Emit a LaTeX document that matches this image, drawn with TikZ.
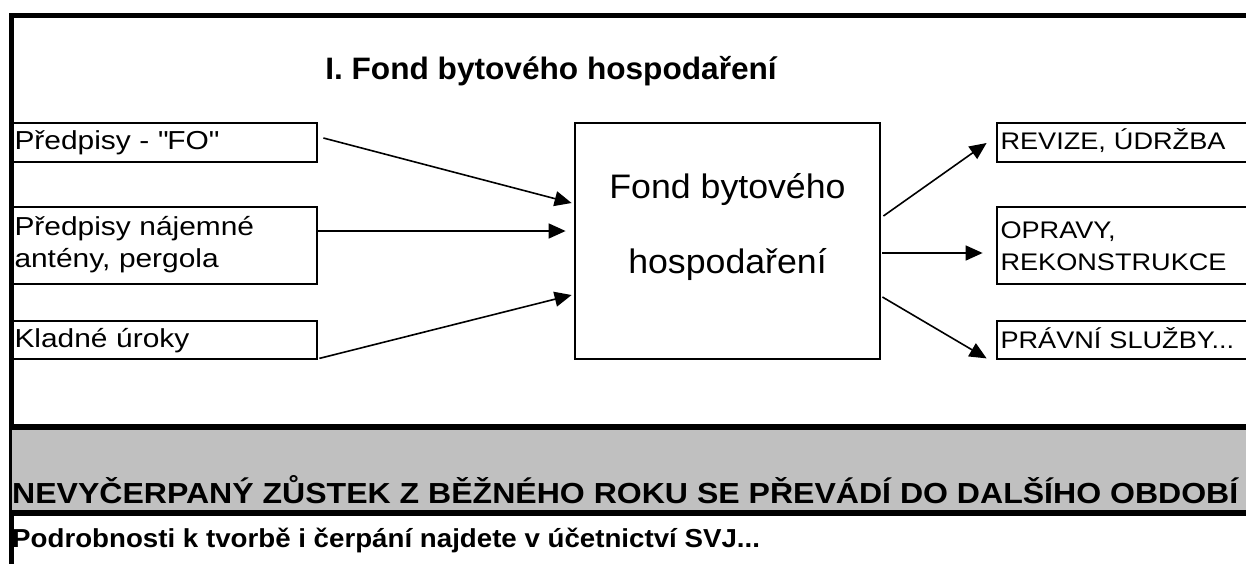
\documentclass[tikz,border=0pt]{standalone}
\usepackage{fontspec}
\setmainfont{Liberation Sans}
\newfontfamily\titlefont[FakeStretch=1.02]{Liberation Sans}
\newfontfamily\boxfont[FakeStretch=1.15]{Liberation Sans}
\newfontfamily\outfont[FakeStretch=1.13]{Liberation Sans}
\newfontfamily\fundfont[FakeStretch=1.05]{Liberation Sans}
\newfontfamily\bandfont[FakeStretch=1.105]{Liberation Sans}
\newfontfamily\notefont[FakeStretch=1.065]{Liberation Sans}
\usetikzlibrary{arrows.meta,calc}
\definecolor{bandgrey}{RGB}{192,192,192}
\newcommand{\flowedge}[4]{
  % arrow from a point near node #1 to a point near node #3
  \draw[flow] ($(#1)+(#2)$) -- ($(#3)+(#4)$);
}
\tikzstyle{inbox}=[draw, rectangle, line width=2.8pt, text width=300pt, inner xsep=2.5pt, inner ysep=0pt, align=left, font=\boxfont\fontsize{26}{32}\selectfont]
\tikzstyle{outbox}=[draw, rectangle, line width=2.8pt, text width=258pt, inner xsep=3.5pt, inner ysep=0pt, align=left, font=\outfont\fontsize{24}{32}\selectfont]
\tikzstyle{fundbox}=[draw, rectangle, line width=2.8pt, minimum width=305pt, minimum height=236pt]
\tikzset{flow/.style={-{Triangle[length=17pt,width=15pt]}, line width=1.6pt}}
\tikzset{frame/.style={line width=5pt}}
\tikzset{y=-1pt}
\tikzset{x=1pt}

\begin{document}
\begin{tikzpicture}
  \useasboundingbox (0,0) rectangle (1246,563);
  %% Outer frame
  \draw[frame] (1260,15.5) -- (11.5,15.5) -- (11.5,575);
  \draw (551,79) node[anchor=base,font=\titlefont\fontsize{31}{36}\selectfont\bfseries] (title) {I. Fond bytového hospodaření};

  %% Inflows
  \draw (164.5,142.5) node[inbox,minimum height=39pt,text height=18pt,text depth=5pt] (in1) {Předpisy - \textquotedbl FO\textquotedbl};
  \draw (164.5,245.5) node[inbox,minimum height=77pt,text height=18pt,text depth=39pt] (in2) {Předpisy nájemné\\antény, pergola};
  \draw (164.5,340) node[inbox,minimum height=38pt,text height=18pt,text depth=4pt] (in3) {Kladné úroky};

  %% Fund
  \draw (727.5,241) node[fundbox] (fund) {};
  \draw (727.5,227) node[align=center,font=\fundfont\fontsize{34}{75}\selectfont] (fundname) {Fond bytového\\hospodaření};

  %% Outflows
  \draw (1129.5,142.5) node[outbox,minimum height=39pt,text height=17pt,text depth=4pt] (out1) {REVIZE, ÚDRŽBA};
  \draw (1129.5,245.5) node[outbox,minimum height=77pt,text height=17pt,text depth=31.4pt] (out2) {OPRAVY,\\REKONSTRUKCE};
  \draw (1129.5,340) node[outbox,minimum height=38pt,text height=20pt,text depth=3.4pt] (out3) {PRÁVNÍ SLUŽBY...};

  \flowedge{in1.east}{5,-4.5}{fund.west}{-2,-38}
  \flowedge{in2.east}{0,-14.5}{fund.west}{-8,-10}
  \flowedge{in3.south east}{1,-2}{fund.west}{-2,54}
  \flowedge{fund.east}{2,-25}{out1.west}{-9,0.5}
  \flowedge{fund.east}{1,12}{out2.west}{-13,7.5}
  \flowedge{fund.east}{1,56}{out3.south west}{-9,-2}

  %% Balance band
  \fill[bandgrey] (11.5,427) rectangle (1260,513);
  \draw[line width=6pt] (9,427) -- (1260,427);
  \draw[line width=6pt] (9,513) -- (1260,513);
  \draw (12,503) node[anchor=base west,inner sep=0pt,font=\bandfont\fontsize{29}{30}\selectfont\bfseries] (carry) {NEVYČERPANÝ ZŮSTEK Z BĚŽNÉHO ROKU SE PŘEVÁDÍ DO DALŠÍHO OBDOBÍ};
  \draw (12,547) node[anchor=base west,inner sep=0pt,font=\notefont\fontsize{26}{30}\selectfont\bfseries] (note) {Podrobnosti k tvorbě i čerpání najdete v účetnictví SVJ...};
\end{tikzpicture}
\end{document}
